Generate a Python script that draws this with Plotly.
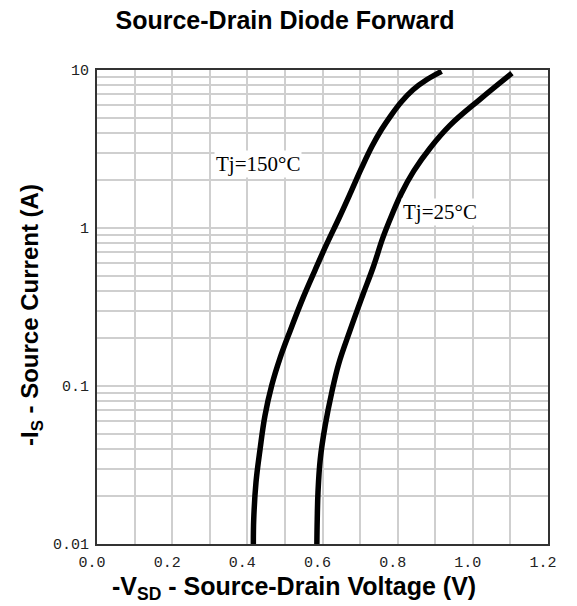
import math
import plotly.graph_objects as go

# Tj = 150 C curve (V, A)
v_150 = [0.416, 0.417, 0.423, 0.434, 0.447, 0.465, 0.487, 0.514, 0.549, 0.580, 0.611, 0.645, 0.676, 0.704, 0.732, 0.757, 0.782, 0.810, 0.841, 0.878, 0.917]
i_150 = [0.01, 0.0143, 0.0245, 0.040, 0.065, 0.101, 0.150, 0.224, 0.365, 0.54, 0.79, 1.17, 1.70, 2.40, 3.30, 4.20, 5.15, 6.3, 7.5, 8.7, 9.8]

# Tj = 25 C curve (V, A)
v_25 = [0.585, 0.586, 0.588, 0.594, 0.607, 0.625, 0.643, 0.673, 0.706, 0.736, 0.760, 0.784, 0.810, 0.843, 0.886, 0.939, 1.019, 1.104]
i_25 = [0.01, 0.0143, 0.0212, 0.0344, 0.056, 0.092, 0.138, 0.224, 0.37, 0.575, 0.86, 1.20, 1.66, 2.30, 3.2, 4.46, 6.52, 9.54]

x_ticks = [0.0, 0.2, 0.4, 0.6, 0.8, 1.0, 1.2]
x_ticktext = ["0.0", "0.2", "0.4", "0.6", "0.8", "1.0", "1.2"]
y_ticks = [0.01, 0.1, 1, 10]
y_ticktext = ["0.01", "0.1", "1", "10"]
y_minor = [m * d for d in (0.01, 0.1, 1) for m in range(2, 10)]

labels = ["Tj=150°C", "Tj=25°C"]
label_pos = [(0.312, 2.55), (0.809, 1.27)]

title_text = "<b>Source-Drain Diode Forward</b>"
x_title = "<b>-V<sub>SD</sub> - Source-Drain Voltage (V)</b>"
y_title = "<b>-I<sub>S</sub> - Source Current (A)</b>"

fig = go.Figure()
for v, i in ((v_150, i_150), (v_25, i_25)):
    fig.add_trace(go.Scatter(x=v, y=i, mode="lines",
                             line=dict(color="black", width=5.5, shape="spline", smoothing=1.1),
                             showlegend=False, hoverinfo="skip"))

for txt, (lx, ly) in zip(labels, label_pos):
    fig.add_annotation(x=lx, y=math.log10(ly), yref="y", xref="x", text=txt, showarrow=False,
                       xanchor="left", yanchor="middle", bgcolor="white",
                       font=dict(family="Liberation Serif", size=21, color="black"))

# axis titles
fig.add_annotation(x=(294 - 97) / 451, y=-(588 - 544) / 474, xref="paper", yref="paper",
                   text=x_title, showarrow=False, xanchor="center", yanchor="middle",
                   font=dict(family="Liberation Sans", size=25, color="black"))
fig.add_annotation(x=-(97 - 31) / 451, y=(544 - 315) / 474, xref="paper", yref="paper",
                   text=y_title, showarrow=False, xanchor="center", yanchor="middle", textangle=-90,
                   font=dict(family="Liberation Sans", size=24, color="black"))

grid_col = "#cfcfcf"
fig.update_layout(
    width=577, height=606,
    margin=dict(l=97, r=29, t=70, b=62),
    paper_bgcolor="white", plot_bgcolor="white",
    title=dict(text=title_text, x=285 / 577, xanchor="center", xref="container",
               y=0.967, yanchor="middle", yref="container",
               font=dict(family="Liberation Sans", size=25, color="black")),
    xaxis=dict(range=[0, 1.2], tickvals=x_ticks, ticktext=x_ticktext,
               showgrid=True, gridcolor=grid_col, gridwidth=1.5,
               minor=dict(dtick=0.1, tick0=0, showgrid=True, gridcolor=grid_col, gridwidth=1.5),
               showline=True, linecolor="#333333", linewidth=2, mirror=True,
               ticks="", zeroline=False, ticklabelstandoff=3, ticklabelshift=-5,
               tickfont=dict(family="Liberation Mono", size=15, color="#222222")),
    yaxis=dict(type="log", range=[-2, 1], tickvals=y_ticks, ticktext=y_ticktext,
               showgrid=True, gridcolor=grid_col, gridwidth=1.5,
               minor=dict(tickvals=y_minor, showgrid=True, gridcolor=grid_col, gridwidth=1.5),
               showline=True, linecolor="#333333", linewidth=2, mirror=True,
               ticks="", zeroline=False, ticklabelstandoff=3,
               tickfont=dict(family="Liberation Mono", size=15, color="#222222")),
)

fig.write_html("out.html")
